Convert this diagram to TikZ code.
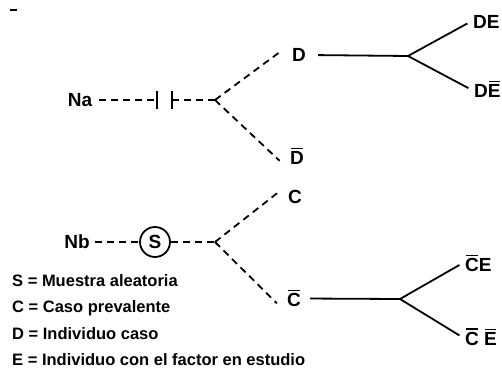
\documentclass[tikz,border=0pt]{standalone}
\usepackage{fontspec}
\setmainfont{Liberation Sans}
\newcommand{\ovbar}[1]{\setbox0=\hbox{#1}\rlap{\raisebox{\dimexpr\ht0+2.5pt\relax}{\hspace{1pt}\rule{\dimexpr\wd0-2pt\relax}{1.4pt}}}\box0\relax}
\begin{document}
\begin{tikzpicture}[x=1pt,y=-1pt,
  lbl/.style={font=\fontsize{19}{22}\selectfont\bfseries, inner sep=3pt},
  leg/.style={font=\fontsize{16.5}{19}\selectfont\bfseries, inner sep=0pt, anchor=base west},
  dline/.style={line width=1.8pt, dash pattern=on 7pt off 5pt},
  sline/.style={line width=1.8pt}]
\useasboundingbox (0,0) rectangle (502,369);
% small mark
\draw[line width=2.5pt] (10,10) -- (17,10);
% top tree
\node[lbl] (Na) at (80,100) {Na};
\coordinate (b1) at (157,100);
\coordinate (b2) at (172,100);
\coordinate (ja) at (215,100);
\node[lbl] (D) at (299,55) {D};
\node[lbl] (Db) at (297,156) {\ovbar{D}};
\coordinate (jd) at (408,56);
\node[lbl, anchor=west] (DE) at (470,22) {DE};
\node[lbl, anchor=west] (DEb) at (471,89.5) {D\ovbar{E}};
\draw[sline] ([yshift=9pt]b1) -- ([yshift=-9pt]b1);
\draw[sline] ([yshift=9pt]b2) -- ([yshift=-9pt]b2);
\draw[dline, shorten <=4pt] (Na) -- (b1);
\draw[dline] (b2) -- (ja);
\draw[dline, shorten >=10pt] (ja) -- (D.north west);
\draw[dline, shorten >=10pt] (ja) -- (Db.south west);
\draw[sline, shorten <=9pt] (D.east) -- (jd);
\draw[sline, shorten >=3pt] (jd) -- (DE.west);
\draw[sline, shorten >=3pt] (jd) -- (DEb.west);
% bottom tree
\node[lbl] (Nb) at (77,242) {Nb};
\node[circle, draw, line width=1.8pt, minimum size=30pt, inner sep=0pt,
      font=\fontsize{19}{22}\selectfont\bfseries] (S) at (155,242) {S};
\coordinate (js) at (215,242);
\node[lbl] (C) at (295,197) {C};
\node[lbl] (Cb) at (294,298.5) {\ovbar{C}};
\coordinate (jc) at (400,299);
\node[lbl, anchor=west] (CbE) at (462,263.5) {\ovbar{C}E};
\node[lbl, anchor=west] (CbEb) at (462,337) {\ovbar{C} \ovbar{E}};
\draw[dline, shorten <=2pt] (Nb) -- (S);
\draw[dline] (S) -- (js);
\draw[dline, shorten >=10pt] (js) -- (C.north west);
\draw[dline, shorten >=10pt] (js) -- (Cb.south west);
\draw[sline, shorten <=6pt] (Cb.east) -- (jc);
\draw[sline, shorten >=3pt] (jc) -- (CbE.west);
\draw[sline, shorten >=3pt] (jc) -- (CbEb.west);
% legend
\node[leg] (l1) at (12,286) {S = Muestra aleatoria};
\node[leg] (l2) at (12,312) {C = Caso prevalente};
\node[leg] (l3) at (12,339) {D = Individuo caso};
\node[leg] (l4) at (12,365) {E = Individuo con el factor en estudio};
\end{tikzpicture}
\end{document}
